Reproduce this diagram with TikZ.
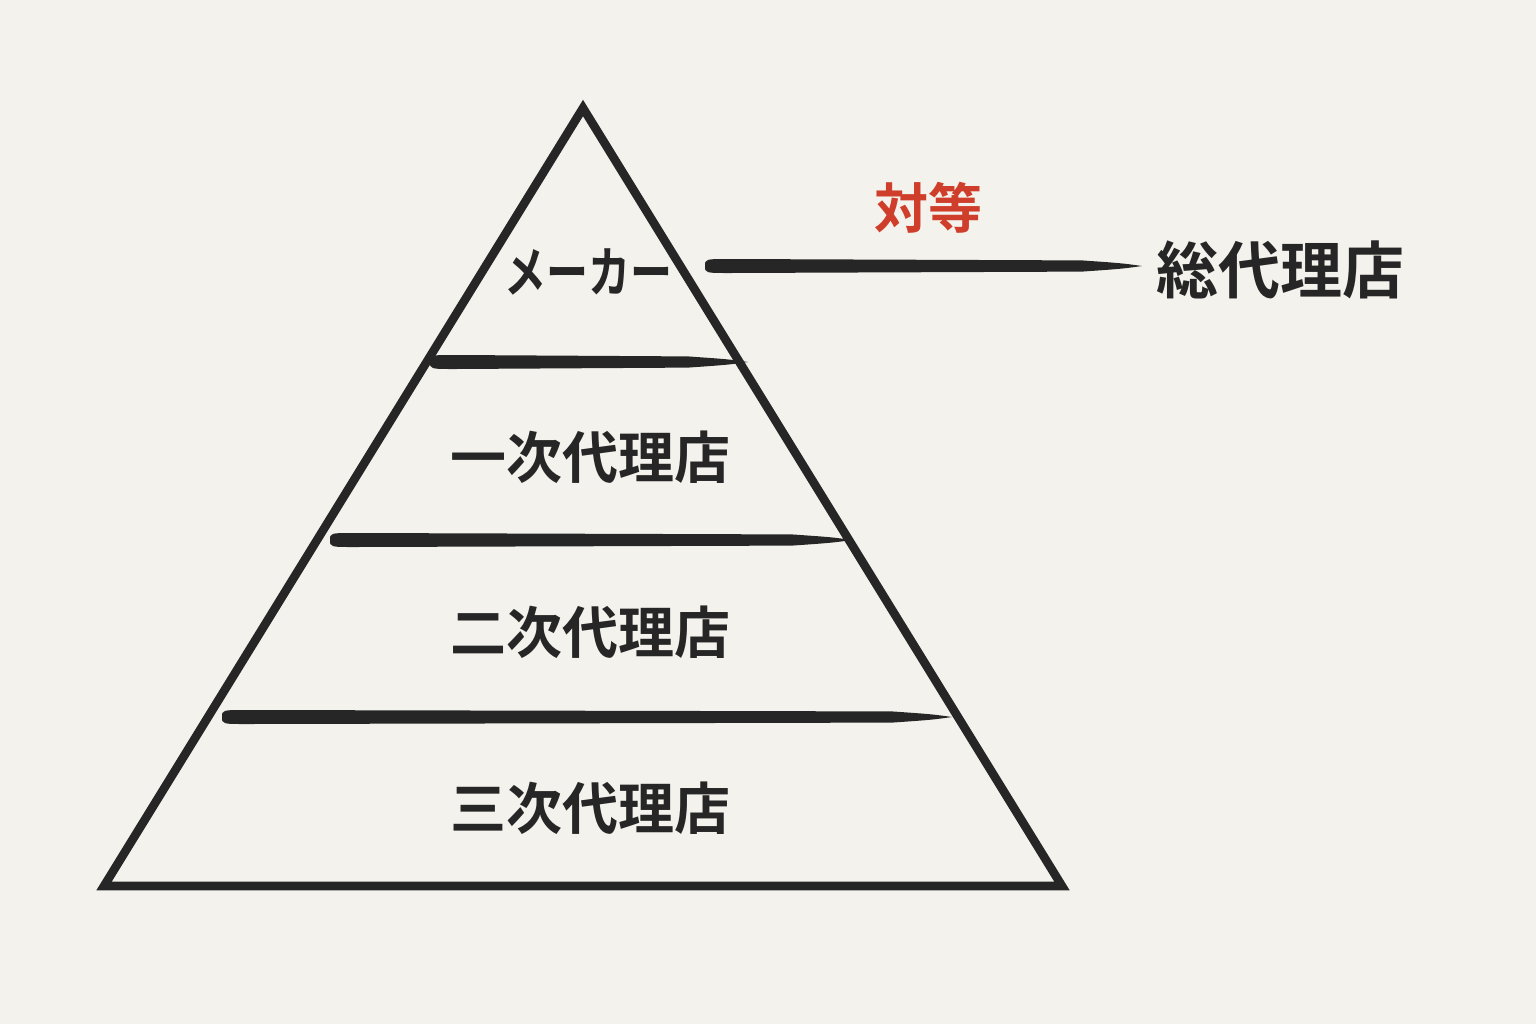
\documentclass[tikz,border=0pt]{standalone}
\usepackage{fontspec}
\newfontfamily\cjk{Noto Sans CJK JP}[BoldFont={Noto Sans CJK JP Bold}]
\definecolor{paper}{HTML}{F4F2EC}
\definecolor{ink}{HTML}{262626}
\definecolor{redink}{HTML}{CF3E2A}
\tikzset{
  edge/.style={draw=ink, line width=4.3pt, line join=miter},
  brush/.style={fill=ink, draw=none},
  lab/.style={font=\cjk\bfseries\fontsize{28}{34}\selectfont, text=ink, inner sep=0pt},
  redlab/.style={font=\cjk\bfseries\fontsize{27}{32}\selectfont, text=redink, inner sep=0pt}
}
\newcommand{\brushstroke}[4]{% x1,x2,y,halfthickness
  \fill[brush] (#1,#3) .. controls (#1,#3-#4) .. (#1+25,#3-#4) -- (#2-60,#3-#4*0.8) .. controls (#2-20,#3-#4*0.4) .. (#2,#3) .. controls (#2-20,#3+#4*0.4) .. (#2-60,#3+#4*0.8) -- (#1+25,#3+#4) .. controls (#1,#3+#4) .. (#1,#3) -- cycle;}
\begin{document}
\begin{tikzpicture}[x=0.5pt,y=-0.5pt]
\fill[paper] (0,0) rectangle (1536,1024);
\useasboundingbox (0,0) rectangle (1536,1024);
\coordinate (apex) at (583,108);
\coordinate (bl) at (104,886);
\coordinate (br) at (1062,886);
\draw[edge] (apex) -- (br) -- (bl) -- cycle;
% dividers
\brushstroke{430}{748}{362}{7}
\brushstroke{330}{852}{540}{7}
\brushstroke{222}{952}{717}{7}
% connector
\coordinate (c1) at (705,265);
\coordinate (c2) at (1142,266);
\brushstroke{705}{1142}{266}{7}
\node[lab, font=\cjk\bfseries\fontsize{21}{26}\selectfont] (maker) at (588,272) {\scalebox{1}[1.3]{メーカー}};
\node[lab] (l1) at (590,457) {一次代理店};
\node[lab] (l2) at (590,632) {二次代理店};
\node[lab] (l3) at (590,808) {三次代理店};
\node[lab, font=\cjk\bfseries\fontsize{31}{36}\selectfont] (sou) at (1280,270) {総代理店};
\node[redlab] (taito) at (928,208) {対等};
\end{tikzpicture}
\end{document}
